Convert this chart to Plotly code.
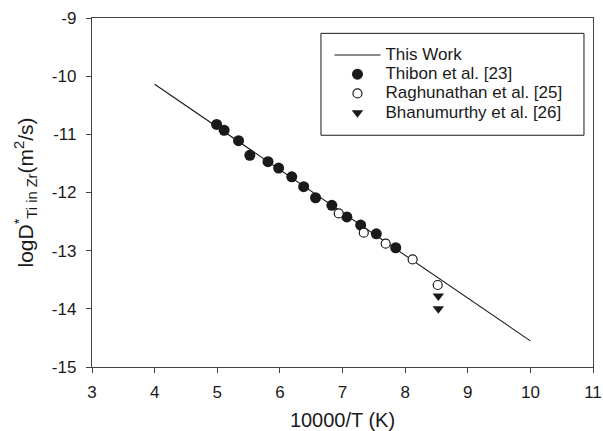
import plotly.graph_objects as go

# Arrhenius fit for Ti tracer diffusion in Zr (this work)
fit_x = [4.0, 10.0]
fit_y = [-10.14, -14.55]

# Thibon et al. [23]
thibon_x = [4.99, 5.11, 5.34, 5.52, 5.81, 5.98, 6.19, 6.38, 6.57, 6.83, 7.07, 7.29, 7.54, 7.85]
thibon_y = [-10.83, -10.93, -11.11, -11.36, -11.47, -11.58, -11.73, -11.90, -12.09, -12.22,
            -12.42, -12.56, -12.71, -12.95]

# Raghunathan et al. [25]
ragh_x = [6.94, 7.34, 7.69, 8.12, 8.52]
ragh_y = [-12.36, -12.69, -12.88, -13.15, -13.59]

# Bhanumurthy et al. [26]
bhan_x = [8.53, 8.53]
bhan_y = [-13.78, -14.00]

x_ticks = [3, 4, 5, 6, 7, 8, 9, 10, 11]
x_labels = ["3", "4", "5", "6", "7", "8", "9", "10", "11"]
y_ticks = [-15, -14, -13, -12, -11, -10, -9]
y_labels = ["-15", "-14", "-13", "-12", "-11", "-10", "-9"]

series_names = ["This Work", "Thibon et al. [23]", "Raghunathan et al. [25]",
                "Bhanumurthy et al. [26]"]

FONT = "Liberation Sans, Arial, sans-serif"
INK = "#1a1a1a"


def legend_label(text):
    # larger legend text while keeping compact row spacing
    return f'<span style="font-size:17px">{text}</span>'


fig = go.Figure()
fig.add_trace(go.Scatter(x=fit_x, y=fit_y, mode="lines", name=legend_label(series_names[0]),
                         line=dict(color=INK, width=1.1)))
fig.add_trace(go.Scatter(x=thibon_x, y=thibon_y, mode="markers",
                         name=legend_label(series_names[1]),
                         marker=dict(symbol="circle", size=11, color=INK,
                                     line=dict(width=0))))
fig.add_trace(go.Scatter(x=ragh_x, y=ragh_y, mode="markers",
                         name=legend_label(series_names[2]),
                         marker=dict(symbol="circle", size=9, color="white",
                                     line=dict(color=INK, width=1.2))))
fig.add_trace(go.Scatter(x=bhan_x, y=bhan_y, mode="markers",
                         name=legend_label(series_names[3]),
                         marker=dict(symbol="triangle-down", size=10, color=INK,
                                     line=dict(width=0))))

axis_common = dict(
    showline=True, linecolor="#444", linewidth=1.3, mirror=True,
    ticks="outside", ticklen=5, tickwidth=1, tickcolor="#444",
    showgrid=False, zeroline=False, tickmode="array", automargin=False,
    tickfont=dict(family=FONT, size=17, color=INK),
)

fig.update_xaxes(range=[3, 11], tickvals=x_ticks, ticktext=x_labels,
                 ticklabelstandoff=4, **axis_common,
                 title=dict(text="10000/T (K)", font=dict(family=FONT, size=20, color=INK),
                            standoff=12))
fig.update_yaxes(range=[-15, -9], tickvals=y_ticks, ticktext=y_labels,
                 ticklabelstandoff=6, **axis_common,
                 title=dict(text="logD<sup>*</sup><sub>Ti in Zr</sub>(m<sup>2</sup>/s)",
                            font=dict(family=FONT, size=21, color=INK), standoff=12))

# legend frame
fig.add_shape(type="rect", xref="paper", yref="paper",
              x0=0.457, x1=0.982, y0=0.664, y1=0.956,
              line=dict(color=INK, width=1), fillcolor="white", layer="below")

fig.update_layout(
    width=603, height=431,
    margin=dict(l=92, r=10, t=18, b=64),
    paper_bgcolor="white", plot_bgcolor="white",
    font=dict(family=FONT, color=INK),
    legend=dict(x=0.474, y=0.936, xanchor="left", yanchor="top",
                bgcolor="rgba(0,0,0,0)", borderwidth=0, itemwidth=46,
                font=dict(family=FONT, size=12.5, color=INK), tracegroupgap=0),
)

fig.write_html("out.html")
